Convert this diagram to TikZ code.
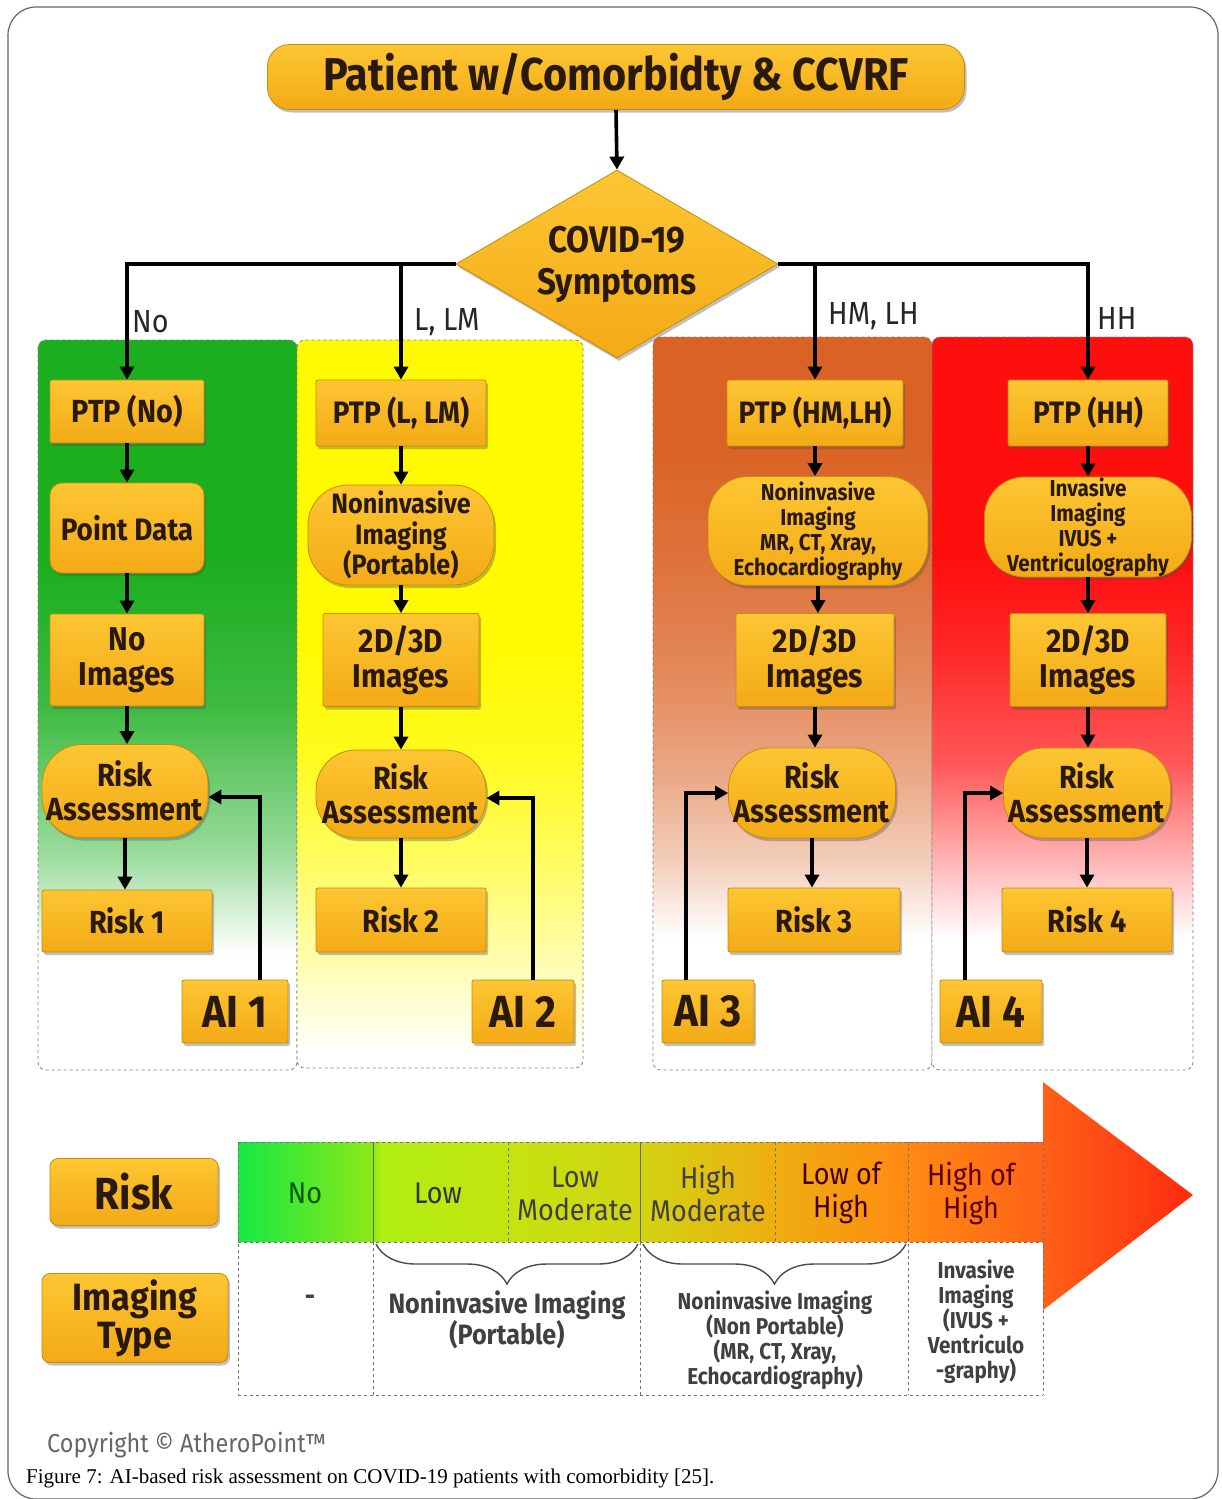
\documentclass[tikz,border=0pt]{standalone}
\usepackage{fontspec}
\setmainfont{Liberation Serif}
\newfontfamily\bxf[FakeStretch=0.9]{Fira Sans}
\usetikzlibrary{shapes.geometric,arrows.meta,shadows,decorations.pathreplacing,calc}
\newcommand\BX[2]{\bxf\bfseries\fontsize{#1}{#2}\selectfont}
\newcommand\RG[2]{\bxf\fontsize{#1}{#2}\selectfont}
\definecolor{boxtop}{HTML}{FDC633}
\definecolor{boxbot}{HTML}{F3AA16}
\definecolor{boxedge}{HTML}{C78C08}
\definecolor{boxtxt}{HTML}{2A1A0E}
\definecolor{grn}{HTML}{1BAE1F}
\definecolor{yel}{HTML}{FFFA00}
\definecolor{org}{HTML}{DA6224}
\definecolor{rdd}{HTML}{FF0E0E}
\definecolor{b1}{HTML}{15E845}
\definecolor{b2}{HTML}{8CE818}
\definecolor{b3}{HTML}{AEEE10}
\definecolor{b4}{HTML}{C4E410}
\definecolor{b5}{HTML}{D2D412}
\definecolor{b6}{HTML}{EEAE10}
\definecolor{b7}{HTML}{FF8A12}
\definecolor{b8}{HTML}{FF6218}
\definecolor{b9}{HTML}{FF2A10}
\pgfdeclareverticalshading{gpanel}{100bp}{color(0bp)=(white); color(33bp)=(white); color(40bp)=(grn!45!white); color(50bp)=(grn!85!white); color(60bp)=(grn); color(100bp)=(grn)}
\pgfdeclareverticalshading{ypanel}{100bp}{color(0bp)=(white); color(26bp)=(white); color(33bp)=(yel!35!white); color(40bp)=(yel!65!white); color(47bp)=(yel!90!white); color(55bp)=(yel); color(100bp)=(yel)}
\pgfdeclareverticalshading{opanel}{100bp}{color(0bp)=(white); color(34bp)=(white); color(39bp)=(org!30!white); color(45bp)=(org!55!white); color(52bp)=(org!75!white); color(60bp)=(org!90!white); color(68bp)=(org); color(100bp)=(org)}
\pgfdeclareverticalshading{rpanel}{100bp}{color(0bp)=(white); color(34bp)=(white); color(40bp)=(rdd!35!white); color(46bp)=(rdd!70!white); color(54bp)=(rdd!90!white); color(60bp)=(rdd); color(100bp)=(rdd)}
\pgfdeclarehorizontalshading{bandsh}{100bp}{color(0bp)=(b1); color(25bp)=(b1); color(32bp)=(b2); color(32.5bp)=(b3); color(39bp)=(b4); color(46bp)=(b5); color(53bp)=(b6); color(60bp)=(b7); color(67bp)=(b8); color(75bp)=(b9); color(100bp)=(b9)}
\tikzset{
  boxbase/.style={draw=boxedge, line width=0.8pt, top color=boxtop, bottom color=boxbot,
    text=boxtxt, align=center, inner sep=0pt,
    drop shadow={shadow xshift=2pt, shadow yshift=-3pt, opacity=0.35, fill=black!70}},
  sqbox/.style={boxbase, rounded corners=2pt},
  rbox/.style={boxbase, rounded corners=12pt},
  pill/.style={boxbase, rounded corners=40pt},
  conn/.style={line width=3.6pt, -{Triangle[length=13pt,width=14pt]}},
  panel/.style={draw=black!50, dashed, line width=0.8pt, rounded corners=8pt},
  lbl/.style={anchor=west, inner sep=0pt, font=\RG{32}{36}, text=black!85},
  bandtxt/.style={align=center, inner sep=0pt, font=\RG{30}{33}},
  tbl/.style={draw=black!55, dashed, line width=1pt},
  tbls/.style={draw=black!60, line width=1pt},
  brc/.style={draw=black!70, line width=1.4pt, decorate, decoration={brace, mirror, amplitude=40pt}},
  lowtxt/.style={align=center, inner sep=0pt, text=black!75, font=\BX{28}{31}},
}
\begin{document}
\begin{tikzpicture}[x=1pt,y=-1pt]
\useasboundingbox (0,0) rectangle (1221,1499);
\fill[white] (0,0) rectangle (1221,1499);
\draw[black!60, line width=1.2pt, rounded corners=28pt] (8,7) rectangle (1218,1499);

% panels
\shadedraw[panel, shading=gpanel] (38,340) rectangle (297,1070);
\shadedraw[panel, shading=ypanel] (297,340) rectangle (583,1068);
\shadedraw[panel, shading=opanel] (653,337) rectangle (932,1070);
\shadedraw[panel, shading=rpanel] (932,337) rectangle (1193,1070);

% title and decision
\node[boxbase, rounded corners=22pt, minimum width=697, minimum height=65, font=\BX{46}{50}] (title) at (616,77) {Patient w/Comorbidty \& CCVRF};
\node[boxbase, diamond, aspect=1.7, minimum width=322, minimum height=188, font=\BX{37}{42}] (dia) at (617,264) {COVID-19\\Symptoms};

% column 1
\node[sqbox, minimum width=154, minimum height=63, font=\BX{32}{36}] (ptp1) at (127,411.5) {PTP (No)};
\node[rbox, minimum width=154, minimum height=90, font=\BX{31}{35}] (pd1) at (127,528) {Point Data};
\node[sqbox, minimum width=154, minimum height=92, font=\BX{33}{35}] (ni1) at (127,660) {No\\Images};
\node[pill, minimum width=166, minimum height=93, font=\BX{32}{34}] (ra1) at (125,791) {Risk\\Assessment};
\node[sqbox, minimum width=170, minimum height=62, font=\BX{32}{36}] (rk1) at (127,921) {Risk 1};
\node[sqbox, minimum width=106, minimum height=63, font=\BX{45}{48}] (ai1) at (235,1011.5) {AI 1};

% column 2
\node[sqbox, minimum width=170, minimum height=66, font=\BX{31}{35}] (ptp2) at (401,413) {PTP (L, LM)};
\node[pill, minimum width=186, minimum height=100, font=\BX{28}{30.5}] (nv2) at (401,535) {Noninvasive\\Imaging\\(Portable)};
\node[sqbox, minimum width=156, minimum height=93, font=\BX{33}{35}] (im2) at (401,660) {2D/3D\\Images};
\node[pill, minimum width=170, minimum height=88, font=\BX{32}{34}] (ra2) at (401,794) {Risk\\Assessment};
\node[sqbox, minimum width=170, minimum height=64, font=\BX{32}{36}] (rk2) at (401,920) {Risk 2};
\node[sqbox, minimum width=102, minimum height=63, font=\BX{45}{48}] (ai2) at (523,1011.5) {AI 2};

% column 3
\node[sqbox, minimum width=176, minimum height=66, font=\BX{31}{35}] (ptp3) at (815,413) {PTP (HM,LH)};
\node[pill, minimum width=220, minimum height=109, font=\BX{23}{25}] (nv3) at (818,531) {Noninvasive\\Imaging\\MR, CT, Xray,\\Echocardiography};
\node[sqbox, minimum width=158, minimum height=93, font=\BX{33}{35}] (im3) at (815,660) {2D/3D\\Images};
\node[pill, minimum width=167, minimum height=90, font=\BX{32}{34}] (ra3) at (812,793) {Risk\\Assessment};
\node[sqbox, minimum width=172, minimum height=64, font=\BX{32}{36}] (rk3) at (814,920) {Risk 3};
\node[sqbox, minimum width=92, minimum height=63, font=\BX{45}{48}] (ai3) at (708,1011.5) {AI 3};

% column 4
\node[sqbox, minimum width=160, minimum height=66, font=\BX{31}{35}] (ptp4) at (1088,413) {PTP (HH)};
\node[pill, minimum width=207, minimum height=100, font=\BX{23}{25}] (nv4) at (1088,527) {Invasive\\Imaging\\IVUS +\\Ventriculography};
\node[sqbox, minimum width=156, minimum height=93, font=\BX{33}{35}] (im4) at (1088,660) {2D/3D\\Images};
\node[pill, minimum width=167, minimum height=90, font=\BX{32}{34}] (ra4) at (1087,793) {Risk\\Assessment};
\node[sqbox, minimum width=170, minimum height=64, font=\BX{32}{36}] (rk4) at (1087,920) {Risk 4};
\node[sqbox, minimum width=102, minimum height=63, font=\BX{45}{48}] (ai4) at (991,1011.5) {AI 4};

% connectors
\draw[conn] (title.south) -- (dia.north);
\draw[conn] (dia.west) -| (ptp1.north);
\draw[conn] (ptp2.north |- dia.west) -- (ptp2.north);
\draw[conn] (dia.east) -| (ptp4.north);
\draw[conn] (ptp3.north |- dia.east) -- (ptp3.north);
\foreach \c in {1,2,3,4}{
  \draw[conn] (ptp\c.south) -- (ptp\c.south |- {\ifnum\c=1 pd1\else nv\c\fi}.north);
}
\draw[conn] (pd1.south) -- (pd1.south |- ni1.north);
\draw[conn] (ni1.south) -- (ni1.south |- ra1.north);
\draw[conn] (ra1.south) -- (ra1.south |- rk1.north);
\foreach \c in {2,3,4}{
  \draw[conn] (nv\c.south) -- (nv\c.south |- im\c.north);
  \draw[conn] (im\c.south) -- (im\c.south |- ra\c.north);
  \draw[conn] (ra\c.south) -- (ra\c.south |- rk\c.north);
}
\draw[conn] ([xshift=25pt]ai1.north) |- ([yshift=-6pt]ra1.east);
\draw[conn] ([xshift=10pt]ai2.north) |- ([yshift=-4pt]ra2.east);
\draw[conn] ([xshift=-22pt]ai3.north) |- (ra3.west);
\draw[conn] ([xshift=-26pt]ai4.north) |- (ra4.west);

% branch labels
\node[lbl] (lno) at (132,322) {No};
\node[lbl] (llm) at (414,322) {L, LM};
\node[lbl] (lhm) at (828,316) {HM, LH};
\node[lbl] (lhh) at (1097,318) {HH};

% bottom legend
\node[rbox, rounded corners=8pt, minimum width=168, minimum height=67, font=\BX{45}{48}] (risklbl) at (134,1192) {Risk};
\node[rbox, rounded corners=8pt, minimum width=186, minimum height=89, font=\BX{38}{38}] (imglbl) at (135,1318) {Imaging\\Type};

\shade[shading=bandsh] (238,1142) -- (1043,1142) -- (1043,1082) -- (1193,1195) -- (1043,1310) -- (1043,1242) -- (238,1242) -- cycle;
\draw[tbl] (238,1142) -- (1043,1142);
\draw[tbl] (238,1242) -- (1043,1242);
\draw[tbl] (238,1395) -- (1043,1395);
\draw[tbl] (238,1142) -- (238,1395);
\draw[tbl] (1043,1142) -- (1043,1395);
\draw[tbls] (373,1142) -- (373,1242);
\draw[tbl] (373,1242) -- (373,1395);
\draw[tbl] (508,1142) -- (508,1242);
\draw[tbls] (640,1142) -- (640,1242);
\draw[tbl] (640,1242) -- (640,1395);
\draw[tbl] (775,1142) -- (775,1242);
\draw[tbl] (908,1142) -- (908,1395);

\node[bandtxt, text=green!35!black] (cno) at (305,1193) {No};
\node[bandtxt, text=black!80] (clow) at (438,1193) {Low};
\node[bandtxt, text=black!75] (clm) at (575,1194) {Low\\Moderate};
\node[bandtxt, text=black!75] (chm) at (708,1193) {High\\Moderate};
\node[bandtxt, text=black!75!red] (clh) at (841,1193) {Low of\\High};
\node[bandtxt, text=black!65!red] (chh) at (971,1193) {High of\\High};

\draw[brc] (376,1244) -- (638,1244);
\draw[brc] (643,1244) -- (906,1244);

\node[lowtxt] (t1) at (310,1300) {-};
\node[lowtxt] (t2) at (507,1320) {Noninvasive Imaging\\(Portable)};
\node[lowtxt, font=\BX{23}{25}] (t3) at (775,1340) {Noninvasive Imaging\\(Non Portable)\\(MR, CT, Xray,\\Echocardiography)};
\node[lowtxt, font=\BX{23}{25}] (t4) at (976,1322) {Invasive\\Imaging\\(IVUS +\\Ventriculo\\-graphy)};

\node[anchor=west, inner sep=0pt, font=\RG{26}{28}, text=black!60] (copy) at (47,1445) {Copyright © AtheroPoint™};
\node[anchor=west, inner sep=0pt, font=\fontsize{21}{24}\selectfont] (cap) at (26,1478) {Figure 7: AI-based risk assessment on COVID-19 patients with comorbidity [25].};
\end{tikzpicture}
\end{document}
